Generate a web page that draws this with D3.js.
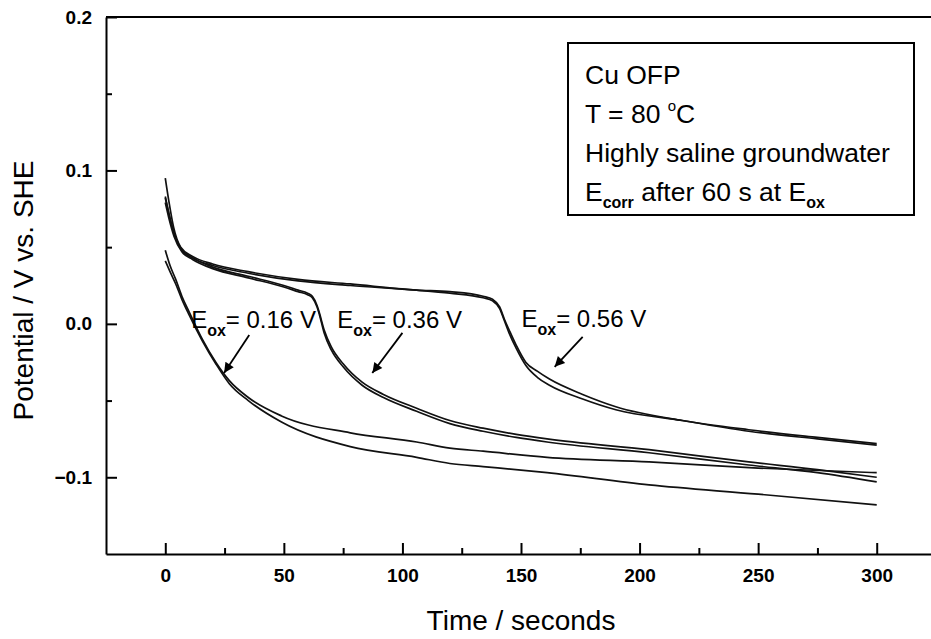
<!DOCTYPE html>
<html>
<head>
<meta charset="utf-8">
<script src="https://cdn.jsdelivr.net/npm/d3@7"></script>
<style>
  body { margin: 0; background: #fff; }
  svg { display: block; font-family: "Liberation Sans", Arial, sans-serif; }
</style>
</head>
<body>
<svg width="931" height="639"></svg>
<script>
// time (s) / potential (V vs SHE)
const run056a = [[0,0.095],[1.5,0.080],[3.5,0.063],[6.5,0.050],[11.5,0.044],[20,0.039],[35,0.034],[56,0.029],[78,0.026],[106,0.022],[120,0.021],[134,0.018],[138,0.016],[141,0.011],[143,0.003],[145,-0.004],[148,-0.014],[152,-0.025],[157,-0.031],[162,-0.036],[176,-0.046],[190,-0.054],[218,-0.063],[246,-0.069],[275,-0.074],[300,-0.078]];
const run056b = [[0,0.082],[1.5,0.072],[3.5,0.060],[6.5,0.049],[11.5,0.043],[20,0.038],[35,0.033],[56,0.028],[78,0.025],[106,0.022],[120,0.020],[134,0.017],[138,0.015],[141,0.010],[143,0.002],[145,-0.006],[148,-0.016],[152,-0.027],[157,-0.035],[162,-0.040],[176,-0.049],[190,-0.056],[218,-0.063],[246,-0.070],[275,-0.075],[300,-0.079]];
const run036a = [[0,0.083],[1.5,0.072],[3.7,0.059],[7,0.048],[11.5,0.043],[20,0.037],[35,0.031],[50,0.025],[56,0.022],[60,0.020],[62,0.018],[64,0.012],[65,0.007],[67,-0.004],[70,-0.015],[75,-0.026],[83,-0.038],[92,-0.046],[106,-0.055],[120,-0.063],[134,-0.068],[148,-0.072],[161,-0.075],[204,-0.082],[246,-0.090],[275,-0.095],[300,-0.100]];
const run036b = [[0,0.079],[1.5,0.069],[3.7,0.057],[7,0.047],[11.5,0.042],[20,0.036],[35,0.030],[50,0.024],[56,0.021],[60,0.019],[62,0.017],[64,0.011],[65,0.006],[67,-0.006],[70,-0.017],[75,-0.028],[83,-0.040],[92,-0.048],[106,-0.057],[120,-0.065],[134,-0.070],[148,-0.074],[161,-0.077],[204,-0.084],[246,-0.092],[275,-0.097],[300,-0.103]];
const run016a = [[0,0.048],[2,0.038],[4.4,0.029],[7,0.018],[10,0.008],[15.6,-0.010],[21.3,-0.025],[27,-0.037],[35,-0.048],[49,-0.060],[78,-0.071],[106,-0.077],[120,-0.081],[134,-0.083],[161,-0.087],[204,-0.090],[250,-0.094],[300,-0.097]];
const run016b = [[0,0.041],[2,0.034],[4.4,0.026],[7,0.016],[10,0.006],[15.6,-0.011],[21.3,-0.026],[27,-0.039],[35,-0.050],[49,-0.064],[78,-0.080],[106,-0.087],[120,-0.091],[134,-0.093],[161,-0.097],[204,-0.105],[250,-0.111],[300,-0.118]];

const xMajor = [0, 50, 100, 150, 200, 250, 300];
const xMinor = [25, 75, 125, 175, 225, 275];
const yMajor = [-0.1, 0.0, 0.1, 0.2];
const yMinor = [-0.05, 0.05, 0.15];

const legendLines = ["Cu OFP", "T = 80 ", "Highly saline groundwater", "E"];
// label text, label pos [t, E], arrow tail [t, E], arrow head [t, E]
const notes = [
  { v: "= 0.16 V", at: [10.9, -0.0026], from: [35.4, -0.0072], to: [24.8, -0.032] },
  { v: "= 0.36 V", at: [72.5, -0.0026], from: [100, -0.0059], to: [87.3, -0.032] },
  { v: "= 0.56 V", at: [150.2, -0.002], from: [176, -0.0085], to: [164.2, -0.028] }
];

const svg = d3.select("svg");
const x = d3.scaleLinear().domain([-25, 325]).range([106, 936]);
const y = d3.scaleLinear().domain([-0.15, 0.2]).range([554, 17]);

// frame top
svg.append("line")
  .attr("x1", x(-25)).attr("x2", x(325))
  .attr("y1", y(0.2)).attr("y2", y(0.2))
  .attr("stroke", "#000").attr("stroke-width", 2);

// minor ticks
svg.append("g").attr("transform", `translate(0,${y(-0.15)})`)
  .call(d3.axisBottom(x).tickValues(xMinor).tickSize(-6).tickSizeOuter(0).tickFormat(""))
  .call(g => g.select(".domain").remove());
svg.append("g").attr("transform", `translate(${x(-25)},0)`)
  .call(d3.axisLeft(y).tickValues(yMinor).tickSize(-6).tickSizeOuter(0).tickFormat(""))
  .call(g => g.select(".domain").remove());

const xAxis = svg.append("g").attr("transform", `translate(0,${y(-0.15)})`)
  .call(d3.axisBottom(x).tickValues(xMajor).tickSize(-11).tickSizeOuter(0).tickPadding(15).tickFormat(d3.format("d")));
const yAxis = svg.append("g").attr("transform", `translate(${x(-25)},0)`)
  .call(d3.axisLeft(y).tickValues(yMajor).tickSize(-11).tickSizeOuter(0).tickPadding(14).tickFormat(d3.format(".1f")));

[xAxis, yAxis].forEach(a => {
  a.selectAll("path, line").attr("stroke", "#000").attr("stroke-width", 2);
  a.selectAll("text")
    .style("font-size", "19px").style("font-weight", "bold")
    .style("font-family", "'Liberation Sans', Arial, sans-serif").attr("fill", "#000");
});
svg.selectAll("line").attr("stroke-width", 2);

svg.append("text")
  .attr("x", x(150)).attr("y", 630)
  .attr("text-anchor", "middle").attr("font-size", 28)
  .text("Time / seconds");

svg.append("text")
  .attr("transform", `translate(33,${y(0.025) + 5}) rotate(-90)`)
  .attr("text-anchor", "middle").attr("font-size", 28)
  .text("Potential / V vs. SHE");

// curves
const line = d3.line().x(d => x(d[0])).y(d => y(d[1])).curve(d3.curveMonotoneX);
[run056a, run056b, run036a, run036b, run016a, run016b].forEach(r => {
  svg.append("path").datum(r)
    .attr("d", line)
    .attr("fill", "none").attr("stroke", "#111").attr("stroke-width", 1.7);
});

// legend
const lg = svg.append("g");
lg.append("rect").attr("x", 568).attr("y", 43).attr("width", 346).attr("height", 172)
  .attr("fill", "#fff").attr("stroke", "#000").attr("stroke-width", 2);
const base = [84, 123, 162, 201];
legendLines.forEach((s, i) => {
  const t = lg.append("text").attr("x", 585).attr("y", base[i]).attr("font-size", 26.5).text(s);
  if (i === 1) {
    t.append("tspan").attr("font-size", 15).attr("dy", -12).text("o");
    t.append("tspan").attr("dy", 12).text("C");
  }
  if (i === 3) {
    t.append("tspan").attr("font-size", 16).attr("font-weight", "bold").attr("dy", 7).text("corr");
    t.append("tspan").attr("dy", -7).text(" after 60 s at E");
    t.append("tspan").attr("font-size", 16).attr("font-weight", "bold").attr("dy", 7).text("ox");
  }
});

// annotations
svg.append("defs").append("marker")
  .attr("id", "ah").attr("viewBox", "0 0 10 10").attr("refX", 10).attr("refY", 5)
  .attr("markerWidth", 14).attr("markerHeight", 10).attr("markerUnits", "userSpaceOnUse")
  .attr("orient", "auto")
  .append("path").attr("d", "M0,0L10,5L0,10z").attr("fill", "#000");

notes.forEach(n => {
  const t = svg.append("text").attr("x", x(n.at[0])).attr("y", y(n.at[1])).attr("font-size", 24).text("E");
  t.append("tspan").attr("font-size", 16).attr("font-weight", "bold").attr("dy", 8).text("ox");
  t.append("tspan").attr("dy", -8).text(n.v);
  svg.append("line")
    .attr("x1", x(n.from[0])).attr("y1", y(n.from[1]))
    .attr("x2", x(n.to[0])).attr("y2", y(n.to[1]))
    .attr("stroke", "#000").attr("stroke-width", 1.8)
    .attr("marker-end", "url(#ah)");
});
</script>
</body>
</html>
